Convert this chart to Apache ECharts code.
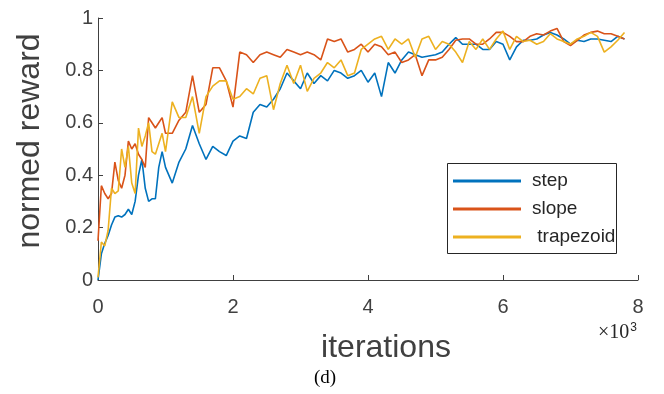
<!DOCTYPE html>
<html>
<head>
<meta charset="utf-8">
<script src="https://cdn.jsdelivr.net/npm/echarts@6/dist/echarts.min.js"></script>
<style>
  html, body { margin: 0; padding: 0; background: #fff; }
  #main { width: 664px; height: 394px; }
</style>
</head>
<body>
<div id="main"></div>
<script>
// x positions (iterations)
var iterations = [
    0, 50, 100, 150, 200, 250, 300, 350, 400, 450, 500, 550, 600, 650, 700, 750, 800, 850, 900, 950, 1000,
    1100, 1200, 1300, 1400, 1500, 1600, 1700, 1800, 1900, 2000,
    2100, 2200, 2300, 2400, 2500, 2600, 2700, 2800, 2900, 3000,
    3100, 3200, 3300, 3400, 3500, 3600, 3700, 3800, 3900, 4000,
    4100, 4200, 4300, 4400, 4500, 4600, 4700, 4800, 4900, 5000,
    5100, 5200, 5300, 5400, 5500, 5600, 5700, 5800, 5900, 6000,
    6100, 6200, 6300, 6400, 6500, 6600, 6700, 6800, 6900, 7000,
    7100, 7200, 7300, 7400, 7500, 7600, 7700, 7800
];

var stepVals = [
    0, 0.10, 0.14, 0.17, 0.21, 0.24, 0.245, 0.24, 0.25, 0.27, 0.25, 0.30, 0.40, 0.46, 0.35, 0.30, 0.31, 0.31, 0.43, 0.49, 0.43,
    0.37, 0.45, 0.50, 0.59, 0.52, 0.46, 0.51, 0.49, 0.475, 0.53,
    0.55, 0.54, 0.64, 0.67, 0.66, 0.69, 0.73, 0.79, 0.76, 0.73,
    0.79, 0.75, 0.78, 0.76, 0.80, 0.79, 0.77, 0.78, 0.80, 0.755,
    0.79, 0.70, 0.83, 0.79, 0.84, 0.87, 0.86, 0.85, 0.855, 0.86,
    0.87, 0.90, 0.925, 0.90, 0.90, 0.90, 0.88, 0.88, 0.91, 0.90,
    0.84, 0.89, 0.915, 0.915, 0.92, 0.935, 0.945, 0.935, 0.92, 0.90,
    0.915, 0.91, 0.92, 0.92, 0.915, 0.91, 0.93, 0.92
];

var slopeVals = [
    0.15, 0.36, 0.33, 0.31, 0.33, 0.45, 0.38, 0.35, 0.40, 0.53, 0.50, 0.52, 0.48, 0.46, 0.43, 0.62, 0.60, 0.58, 0.60, 0.62, 0.56,
    0.56, 0.61, 0.64, 0.78, 0.64, 0.67, 0.81, 0.81, 0.76, 0.66,
    0.87, 0.86, 0.83, 0.86, 0.87, 0.86, 0.85, 0.88, 0.87, 0.86,
    0.87, 0.86, 0.84, 0.92, 0.91, 0.92, 0.87, 0.88, 0.90, 0.87,
    0.90, 0.89, 0.86, 0.87, 0.83, 0.84, 0.86, 0.78, 0.84, 0.84,
    0.85, 0.88, 0.915, 0.92, 0.92, 0.90, 0.90, 0.92, 0.945, 0.945,
    0.93, 0.91, 0.91, 0.93, 0.94, 0.935, 0.95, 0.96, 0.91, 0.895,
    0.915, 0.935, 0.945, 0.95, 0.94, 0.94, 0.93, 0.92
];

var trapezoidVals = [
    0.01, 0.145, 0.13, 0.19, 0.35, 0.33, 0.34, 0.50, 0.43, 0.51, 0.37, 0.33, 0.58, 0.51, 0.55, 0.60, 0.49, 0.48, 0.52, 0.56, 0.49,
    0.68, 0.62, 0.62, 0.70, 0.56, 0.70, 0.74, 0.76, 0.76, 0.69,
    0.70, 0.73, 0.71, 0.77, 0.78, 0.65, 0.75, 0.82, 0.75, 0.82,
    0.72, 0.77, 0.79, 0.83, 0.81, 0.84, 0.78, 0.79, 0.88, 0.90,
    0.92, 0.93, 0.88, 0.92, 0.90, 0.92, 0.85, 0.92, 0.93, 0.88,
    0.91, 0.90, 0.87, 0.83, 0.91, 0.88, 0.92, 0.88, 0.92, 0.95,
    0.88, 0.93, 0.91, 0.915, 0.90, 0.91, 0.94, 0.92, 0.91, 0.90,
    0.92, 0.93, 0.945, 0.93, 0.87, 0.89, 0.915, 0.945
];

var seriesNames = ['step', 'slope', 'trapezoid'];
var seriesColors = ['#0072BD', '#D95319', '#EDB120'];

function pairs(vals) {
    return iterations.map(function (x, i) { return [x, vals[i]]; });
}

var axisGray = '#404040';
var sans = 'Liberation Sans, Arial';

var option = {
    animation: false,
    grid: { left: 98, top: 18, right: 26, bottom: 114 },
    legend: {
        data: seriesNames,
        orient: 'vertical',
        left: 453,
        top: 171,
        padding: 0,
        itemWidth: 68,
        itemHeight: 3,
        itemGap: 8,
        icon: 'rect',
        formatter: function (name) { return name === 'trapezoid' ? ' ' + name : name; },
        textStyle: { fontFamily: sans, fontSize: 19, color: '#262626', lineHeight: 20, padding: [0, 0, 0, 6] }
    },
    xAxis: {
        type: 'value',
        min: 0,
        max: 8000,
        interval: 2000,
        axisLine: { lineStyle: { color: axisGray, width: 1 } },
        axisTick: { inside: true, length: 5, lineStyle: { color: axisGray } },
        axisLabel: {
            margin: 17,
            fontFamily: sans,
            fontSize: 20,
            color: axisGray,
            formatter: function (v) { return String(v / 1000); }
        },
        splitLine: { show: false },
        name: 'iterations',
        nameLocation: 'middle',
        nameGap: 52,
        nameTextStyle: { fontFamily: sans, fontSize: 32, color: axisGray, padding: [0, 0, 0, 36] }
    },
    yAxis: {
        type: 'value',
        min: 0,
        max: 1,
        interval: 0.2,
        axisLine: { show: true, lineStyle: { color: axisGray, width: 1 } },
        axisTick: { show: true, inside: true, length: 5, lineStyle: { color: axisGray } },
        axisLabel: {
            margin: 5,
            fontFamily: sans,
            fontSize: 20,
            color: axisGray
        },
        splitLine: { show: false },
        name: 'normed reward',
        nameLocation: 'middle',
        nameGap: 52,
        nameTextStyle: { fontFamily: sans, fontSize: 32, color: axisGray, padding: [0, 0, 0, 16] }
    },
    graphic: [
        {
            type: 'rect',
            left: 447, top: 163,
            shape: { width: 169, height: 90 },
            style: { fill: '#fff', stroke: '#262626', lineWidth: 1 },
            z: 0
        },
        {
            type: 'text',
            left: 598, top: 322,
            style: {
                text: '×10{sup|3}',
                fontFamily: 'Liberation Serif, Times New Roman',
                fontSize: 20,
                fill: '#262626',
                rich: { sup: { fontSize: 12, verticalAlign: 'top', padding: [0, 0, 10, 1] } }
            }
        },
        {
            type: 'text',
            left: 314, top: 369,
            style: {
                text: '(d)',
                fontFamily: 'Liberation Serif, Times New Roman',
                fontSize: 19,
                fill: '#000'
            }
        }
    ],
    series: seriesNames.map(function (name, i) {
        var vals = [stepVals, slopeVals, trapezoidVals][i];
        return {
            name: name,
            type: 'line',
            data: pairs(vals),
            showSymbol: false,
            symbol: 'none',
            color: seriesColors[i],
            lineStyle: { width: 1.6 },
            z: 2 + i
        };
    })
};

var myChart = echarts.init(document.getElementById('main'));
myChart.setOption(option);
</script>
</body>
</html>
